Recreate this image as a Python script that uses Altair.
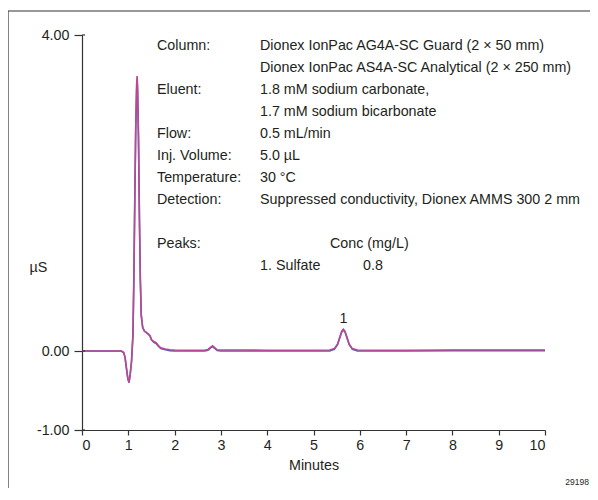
import altair as alt
import pandas as pd

# ---- data ----
times = [0, 0.5, 0.85, 0.90, 0.93, 0.96, 0.99, 1.015, 1.04, 1.07, 1.10, 1.12, 1.14, 1.16,
         1.18, 1.19, 1.20, 1.22, 1.24, 1.26, 1.28, 1.31, 1.35, 1.40, 1.44, 1.47, 1.50, 1.55,
         1.60, 1.65, 1.70, 1.80, 1.90, 2.0, 2.3, 2.65, 2.72, 2.78, 2.82, 2.86, 2.92, 3.0,
         3.5, 4.0, 4.5, 5.0, 5.35, 5.45, 5.52, 5.57, 5.61, 5.645, 5.68, 5.72, 5.77, 5.84,
         5.95, 6.5, 7.0, 8.0, 9.0, 10.0]
magenta_vals = [0, 0, 0, -0.02, -0.08, -0.22, -0.35, -0.40, -0.30, -0.13, 0.2, 0.9, 1.9, 2.8,
                3.38, 3.48, 3.36, 2.7, 1.7, 0.9, 0.45, 0.3, 0.25, 0.23, 0.21, 0.19, 0.145, 0.12,
                0.105, 0.07, 0.04, 0.025, 0.015, 0.012, 0.01, 0.01, 0.02, 0.05, 0.065, 0.045, 0.015, 0.012,
                0.012, 0.01, 0.01, 0.01, 0.012, 0.03, 0.09, 0.18, 0.25, 0.275, 0.25, 0.18, 0.09, 0.03,
                0.012, 0.01, 0.01, 0.012, 0.012, 0.012]
blue_vals = [0, 0, 0, -0.02, -0.08, -0.22, -0.35, -0.40, -0.30, -0.13, 0.2, 0.9, 1.9, 2.8,
             3.3, 3.42, 3.3, 2.7, 1.7, 0.9, 0.45, 0.3, 0.25, 0.23, 0.21, 0.19, 0.14, 0.11,
             0.095, 0.06, 0.03, 0.015, 0.005, 0.0, 0.0, 0.0, 0.01, 0.04, 0.055, 0.035, 0.005, 0.0,
             0.0, 0.0, 0.0, 0.0, 0.002, 0.02, 0.08, 0.17, 0.24, 0.265, 0.24, 0.17, 0.08, 0.02,
             0.002, 0.0, 0.0, 0.005, 0.005, 0.005]

y_ticks = [4, 0, -1]
x_ticks = [0, 1, 2, 3, 4, 5, 6, 7, 8, 9, 10]

peak_numbers = ["1"]
peak_times = [5.645]
peak_heights = [0.275]

info_labels = ["Column:", "", "Eluent:", "", "Flow:", "Inj. Volume:", "Temperature:",
               "Detection:", "", "Peaks:"]
info_values = ["Dionex IonPac AG4A-SC Guard (2 × 50 mm)",
               "Dionex IonPac AS4A-SC Analytical (2 × 250 mm)",
               "1.8 mM sodium carbonate,",
               "1.7 mM sodium bicarbonate",
               "0.5 mL/min",
               "5.0 µL",
               "30 °C",
               "Suppressed conductivity, Dionex AMMS 300 2 mm",
               "",
               "",
               "1. Sulfate"]
conc_header = "Conc (mg/L)"
conc_values = ["0.8"]
fig_id = "29198"

FONT = "Liberation Sans, Arial, sans-serif"
FS = 14.3
TXT = "#231f20"
AX = "#333333"
LINE_H = 22

blue_df = pd.DataFrame({"t": times, "v": blue_vals})
mag_df = pd.DataFrame({"t": times, "v": magenta_vals})

xs = alt.Scale(domain=[0, 10], nice=False, zero=False)
ys = alt.Scale(domain=[-1, 4], nice=False, zero=False)

x_enc = alt.X("t:Q", scale=xs, axis=alt.Axis(
    values=x_ticks, format="d", title="Minutes", grid=False, tickSize=5,
    labelPadding=3, labelFont=FONT, labelFontSize=FS, labelColor=TXT,
    titleFont=FONT, titleFontSize=FS, titleFontWeight="normal", titleColor=TXT,
    titlePadding=6, domainColor=AX, tickColor=AX, domainWidth=1.2, tickWidth=1.2))
y_enc = alt.Y("v:Q", scale=ys, axis=alt.Axis(
    values=y_ticks,
    labelExpr="(datum.value < 0 ? '-' : '') + format(abs(datum.value), '.2f')",
    title="µS", titleAngle=0, titleX=-44, titleY=232,
    titleAlign="center", titleBaseline="middle", grid=False, tickSize=8, labelPadding=5,
    labelFont=FONT, labelFontSize=FS, labelColor=TXT, titleFont=FONT, titleFontSize=FS,
    titleFontWeight="normal", titleColor=TXT, domainColor=AX, tickColor=AX,
    domainWidth=1.2, tickWidth=1.2))

blue = alt.Chart(blue_df).mark_line(color="#4466b0", strokeWidth=1.6).encode(x=x_enc, y=y_enc)
mag = alt.Chart(mag_df).mark_line(color="#bb4894", strokeWidth=1.6).encode(x="t:Q", y="v:Q")

inner_ticks = alt.Chart(pd.DataFrame({"v": y_ticks})).mark_rule(color=AX, strokeWidth=1.2).encode(
    y="v:Q", x=alt.value(0), x2=alt.value(3))

peaks = alt.Chart(pd.DataFrame({"t": peak_times, "v": peak_heights, "n": peak_numbers})).mark_text(
    font=FONT, fontSize=FS, color=TXT, baseline="bottom", dy=-3).encode(x="t:Q", y="v:Q", text="n:N")

# info block
rows = []
for i, s in enumerate(info_labels):
    if s:
        rows.append({"x": 75, "y": 11 + LINE_H * i, "s": s})
for i, s in enumerate(info_values):
    if s:
        rows.append({"x": 178, "y": 11 + LINE_H * i, "s": s})
rows.append({"x": 248, "y": 11 + LINE_H * 9, "s": conc_header})
for j, s in enumerate(conc_values):
    rows.append({"x": 281, "y": 11 + LINE_H * (10 + j), "s": s})
info = alt.Chart(pd.DataFrame(rows)).mark_text(
    font=FONT, fontSize=FS, color=TXT, align="left", baseline="middle").encode(
    x=alt.X("x:Q", scale=None), y=alt.Y("y:Q", scale=None), text="s:N")

fid = alt.Chart(pd.DataFrame({"s": [fig_id]})).mark_text(
    font=FONT, fontSize=8.5, color=TXT, align="right", baseline="middle").encode(
    x=alt.value(507), y=alt.value(447), text="s:N")

frame = alt.Chart(pd.DataFrame({"a": [0]})).mark_rect(
    fill=None, stroke="#333333", strokeWidth=1.2).encode(
    x=alt.value(-74), x2=alt.value(530), y=alt.value(-24), y2=alt.value(480))

chart = alt.layer(frame, blue, mag, inner_ticks, peaks, info, fid).properties(
    width=463, height=395,
    autosize=alt.AutoSizeParams(type="none"),
    padding={"left": 74, "top": 27, "right": 45, "bottom": 58},
).configure_view(stroke=None)

chart.save("out.html", embed_options={"renderer": "svg", "actions": False})
